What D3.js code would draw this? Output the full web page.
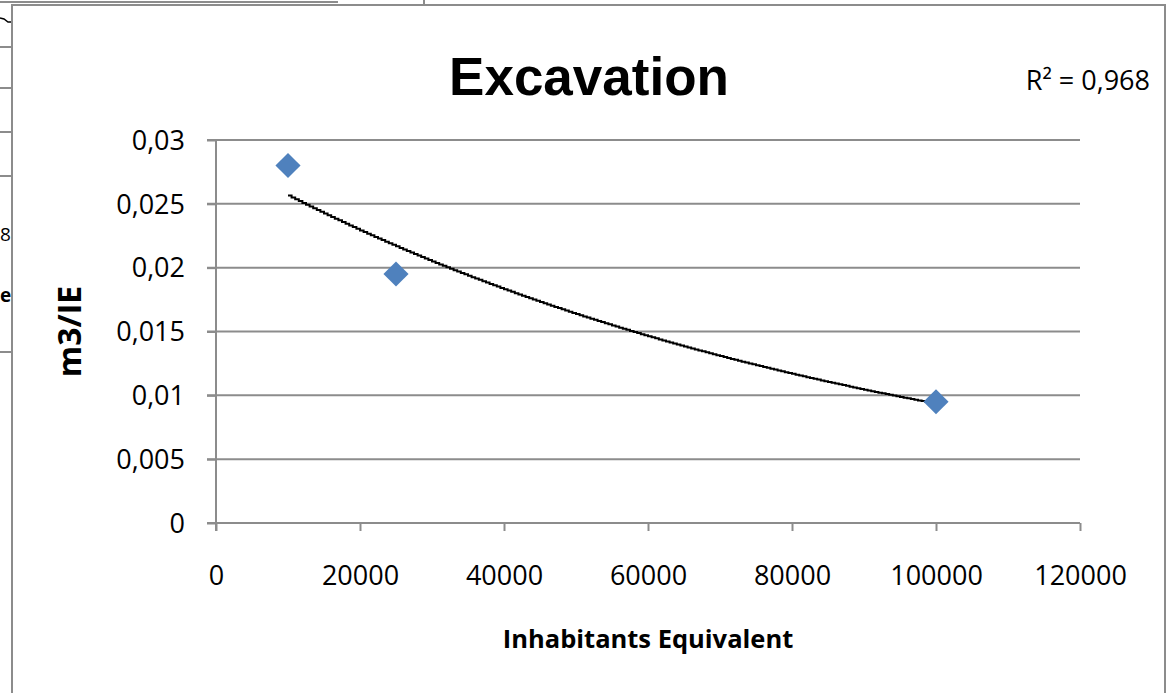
<!DOCTYPE html>
<html>
<head>
<meta charset="utf-8">
<script src="https://cdn.jsdelivr.net/npm/d3@7"></script>
<style>
  html, body { margin: 0; padding: 0; background: #fff; }
  svg { display: block; }
</style>
</head>
<body>
<svg id="chart" width="1168" height="693"></svg>
<script>
// ---- data ----
const inhabitants = [10000, 25000, 100000];
const m3PerIE = [0.028, 0.0195, 0.0095];
const xTicks = [0, 20000, 40000, 60000, 80000, 100000, 120000];
const yTicks = [0, 0.005, 0.01, 0.015, 0.02, 0.025, 0.03];
const titleText = "Excavation";
const xTitle = "Inhabitants Equivalent";
const yTitle = "m3/IE";
const r2Label = "R² = 0,968";

const svg = d3.select("#chart");
const plot = { left: 216, right: 1080, top: 140, bottom: 523 };
const BASE_FONT = "'Open Sans', 'Liberation Sans', sans-serif";

const x = d3.scaleLinear().domain([0, 120000]).range([plot.left, plot.right]);
const y = d3.scaleLinear().domain([0, 0.03]).range([plot.bottom, plot.top]);
const fmt = v => String(v).replace(".", ",");

// background fragments of an underlying sheet (left/top edge)
const bg = svg.append("g").attr("stroke", "#8c8c8c").attr("stroke-width", 2);
bg.append("line").attr("x1", 0).attr("x2", 338).attr("y1", 2).attr("y2", 2);
bg.append("line").attr("x1", 424).attr("x2", 424).attr("y1", 0).attr("y2", 4);
[47, 88, 132, 176, 352].forEach(yy =>
  bg.append("line").attr("x1", 0).attr("x2", 12).attr("y1", yy).attr("y2", yy));
svg.append("path").attr("d", "M0,18 L4,19 L8,22 L11,22")
  .attr("fill", "none").attr("stroke", "#000").attr("stroke-width", 1.5);
svg.append("text").attr("x", 0).attr("y", 241).style("font-family", BASE_FONT)
  .style("font-size", "19px").attr("fill", "#000").text("8");
svg.append("text").attr("x", 0).attr("y", 302).style("font-family", BASE_FONT)
  .style("font-size", "19px").style("font-weight", "bold").attr("fill", "#000").text("e");

// chart border
svg.append("rect").attr("x", 12).attr("y", 5).attr("width", 1153).attr("height", 720)
  .attr("fill", "#fff").attr("stroke", "#8c8c8c").attr("stroke-width", 2);

// gridlines
svg.append("g").selectAll("line").data(yTicks.filter(d => d > 0)).join("line")
  .attr("x1", plot.left - 9).attr("x2", plot.right)
  .attr("y1", d => y(d)).attr("y2", d => y(d))
  .attr("stroke", "#8c8c8c").attr("stroke-width", 2);

// y axis
const yAxis = svg.append("g").attr("transform", `translate(${plot.left},0)`)
  .call(d3.axisLeft(y).tickValues(yTicks).tickFormat(fmt).tickSize(9).tickPadding(22));
yAxis.select(".domain").attr("stroke", "#8c8c8c").attr("stroke-width", 2)
  .attr("d", `M0,${plot.top}V${plot.bottom + 8}`);
yAxis.selectAll(".tick line").attr("stroke", "#8c8c8c").attr("stroke-width", 2);
yAxis.selectAll(".tick text").style("font-size", "27px").style("font-family", BASE_FONT)
  .attr("fill", "#000").attr("dy", "0.34em");

// x axis
const xAxis = svg.append("g").attr("transform", `translate(0,${plot.bottom})`)
  .call(d3.axisBottom(x).tickValues(xTicks).tickFormat(d => String(d)).tickSize(8).tickPadding(35));
xAxis.select(".domain").attr("stroke", "#8c8c8c").attr("stroke-width", 2)
  .attr("d", `M${plot.left - 9},0H${plot.right}`);
xAxis.selectAll(".tick line").attr("stroke", "#8c8c8c").attr("stroke-width", 2);
xAxis.selectAll(".tick text").style("font-size", "27px").style("font-family", BASE_FONT).attr("fill", "#000");

// exponential trendline fitted to the data (least squares on ln y)
const ly = m3PerIE.map(Math.log);
const mx = d3.mean(inhabitants), my = d3.mean(ly);
const b = d3.sum(inhabitants.map((v, i) => (v - mx) * (ly[i] - my))) /
          d3.sum(inhabitants.map(v => (v - mx) ** 2));
const a = Math.exp(my - b * mx);
const x0 = d3.min(inhabitants), x1 = d3.max(inhabitants);
const trend = d3.range(0, 181).map(i => {
  const xv = x0 + (x1 - x0) * i / 180;
  return [xv, a * Math.exp(b * xv)];
});
svg.append("path").datum(trend)
  .attr("d", d3.line().x(d => x(d[0])).y(d => y(d[1])).curve(d3.curveStepAfter))
  .attr("fill", "none").attr("stroke", "#000").attr("stroke-width", 2);

// markers
svg.append("g").selectAll("path").data(inhabitants.map((v, i) => [v, m3PerIE[i]])).join("path")
  .attr("d", d3.symbol().type(d3.symbolSquare).size(315))
  .attr("transform", d => `translate(${x(d[0])},${y(d[1])}) rotate(45)`)
  .attr("fill", "#4F81BD");

// title
svg.append("text").attr("x", 589).attr("y", 95).attr("text-anchor", "middle")
  .style("font-family", "'Liberation Sans', Arial, sans-serif").style("font-weight", "bold")
  .style("font-size", "53px").attr("fill", "#000").text(titleText);

// R² label
svg.append("text").attr("x", 1150).attr("y", 90).attr("text-anchor", "end")
  .style("font-family", BASE_FONT).style("font-size", "27px").attr("fill", "#000").text(r2Label);

// axis titles
svg.append("text").attr("x", (plot.left + plot.right) / 2).attr("y", 648)
  .attr("text-anchor", "middle").style("font-family", BASE_FONT).style("font-weight", "bold")
  .style("font-size", "25.5px").attr("fill", "#000").text(xTitle);
svg.append("text").attr("transform", `translate(81,${(plot.top + plot.bottom) / 2}) rotate(-90)`)
  .attr("text-anchor", "middle").style("font-family", BASE_FONT).style("font-weight", "bold")
  .style("font-size", "32px").attr("fill", "#000").text(yTitle);
</script>
</body>
</html>
